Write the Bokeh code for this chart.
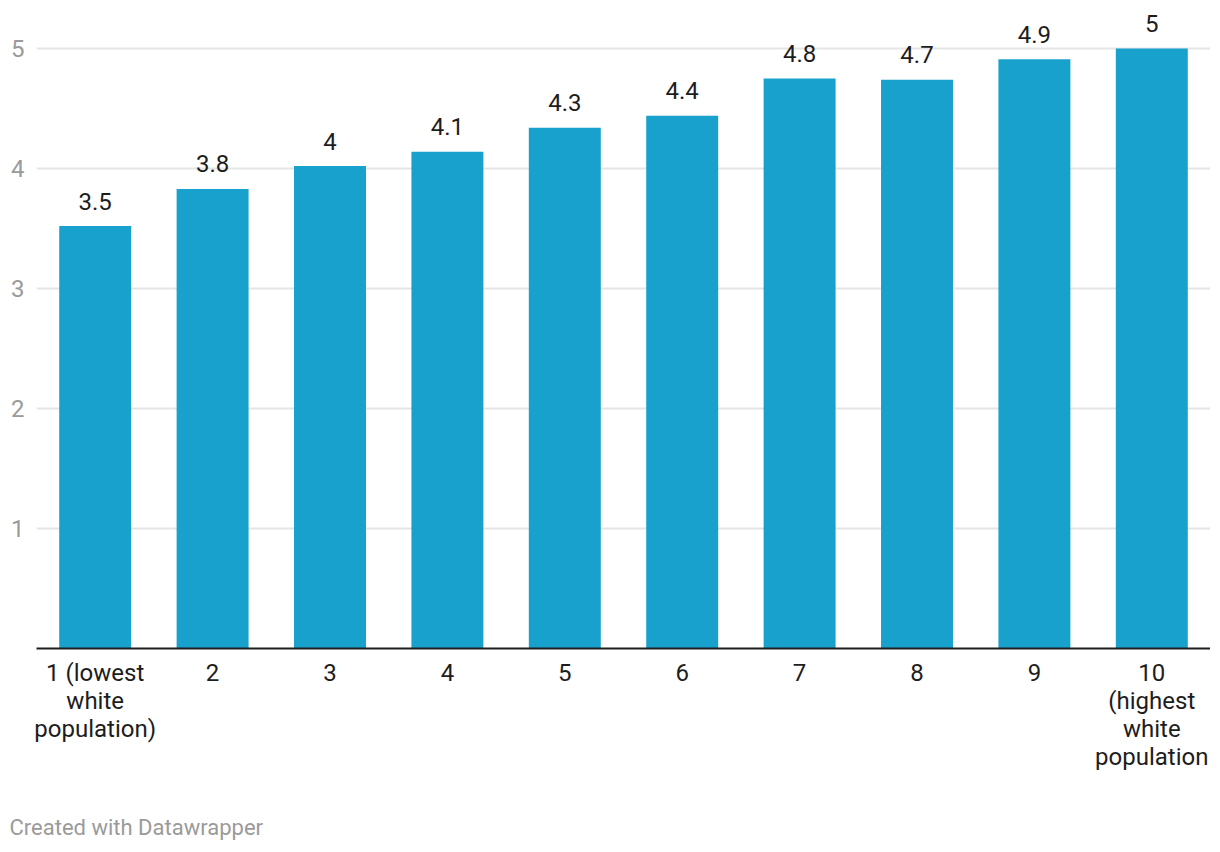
from bokeh.plotting import figure
from bokeh.models import Range1d, FixedTicker, ColumnDataSource, Title
from bokeh.core.properties import value
from bokeh.embed import file_html
from bokeh.resources import INLINE

deciles = [1, 2, 3, 4, 5, 6, 7, 8, 9, 10]
tick_labels = ["1 (lowest\nwhite\npopulation)", "2", "3", "4", "5", "6", "7", "8", "9",
               "10\n(highest\nwhite\npopulation"]
values = [3.52, 3.83, 4.02, 4.14, 4.34, 4.44, 4.75, 4.74, 4.91, 5.0]
value_labels = ["3.5", "3.8", "4", "4.1", "4.3", "4.4", "4.8", "4.7", "4.9", "5"]
y_ticks = [1, 2, 3, 4, 5]

FONT = "Roboto"

src = ColumnDataSource(dict(x=deciles, top=values, lab=value_labels))

p = figure(frame_width=1174, frame_height=640, output_backend="svg", toolbar_location=None,
           x_range=Range1d(0.5, 10.5), y_range=Range1d(0, 640 / 120),
           min_border_left=36, min_border_right=0, min_border_top=8, min_border_bottom=0)
p.outline_line_color = None
p.background_fill_color = "white"
p.border_fill_color = "white"

p.vbar(x="x", top="top", width=0.613, source=src, color="#18a1cd", line_color=None)
p.text(x="x", y="top", text="lab", source=src, text_align="center",
       text_baseline="alphabetic", y_offset=-25, text_font=value(FONT),
       text_font_size="24px", text_color="#1d1d1d")

# x axis
xa = p.xaxis[0]
xa.ticker = FixedTicker(ticks=deciles)
xa.major_label_overrides = {d: t for d, t in zip(deciles, tick_labels)}
xa.axis_line_color = "#1d1d1d"
xa.axis_line_width = 2
xa.major_tick_line_color = None
xa.minor_tick_line_color = None
xa.major_label_text_font = FONT
xa.major_label_text_font_size = "24px"
xa.major_label_text_color = "#1d1d1d"
xa.major_label_text_line_height = 1.0
xa.major_label_standoff = 4

# y axis
ya = p.yaxis[0]
ya.ticker = FixedTicker(ticks=y_ticks)
ya.axis_line_color = None
ya.major_tick_line_color = None
ya.minor_tick_line_color = None
ya.major_label_text_font = FONT
ya.major_label_text_font_size = "24px"
ya.major_label_text_color = "#9a9a9a"
ya.major_label_standoff = 6

p.xgrid.grid_line_color = None
p.ygrid.ticker = FixedTicker(ticks=y_ticks)
p.ygrid.grid_line_color = "#e5e5e5"
p.ygrid.grid_line_width = 2

footer = Title(text="Created with Datawrapper", align="left", text_font=FONT,
               text_font_size="22px", text_font_style="normal", text_color="#9a9a9a",
               standoff=79, offset=-27)
p.add_layout(footer, "below")

open("out.html", "w").write(file_html(p, INLINE))
